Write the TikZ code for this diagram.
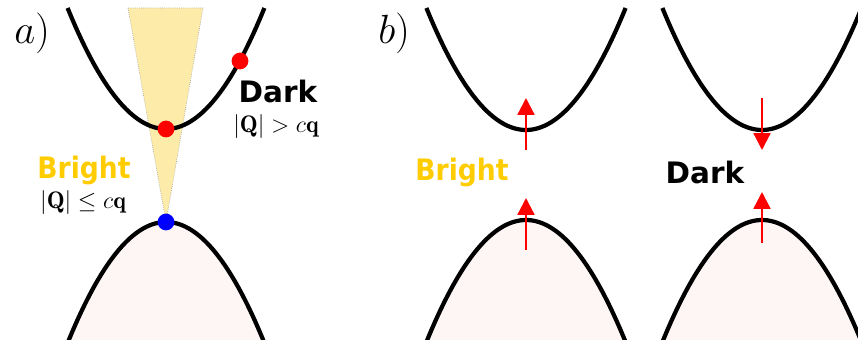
\RequirePackage{fix-cm}
\documentclass[tikz,border=0pt]{standalone}
\usepackage{amsmath}
\usepackage{amssymb}
\usepackage{fontspec}
\usepackage{xcolor}
\usetikzlibrary{arrows.meta}
\newfontfamily\labelfont{DejaVu Sans}
\definecolor{brightgold}{HTML}{FFCC00}
\definecolor{conefill}{HTML}{FDEBA9}
\definecolor{bandfill}{HTML}{FDF6F5}
\tikzset{
  band/.style={line width=3pt, black},
  cone/.style={fill=conefill, draw=gray!70, densely dotted, line width=0.5pt},
  kdot/.style={circle, inner sep=0pt, minimum size=0.42cm},
  spin/.style={-{Triangle[length=4.2mm, width=4.2mm]}, line width=1.6pt, red},
  lbl/.style={font=\labelfont\bfseries\fontsize{21}{24}\selectfont, inner sep=0pt},
  brightlbl/.style={lbl, text=brightgold, xscale=0.9, transform shape},
  cond/.style={font=\fontsize{17}{19}\selectfont, inner sep=0pt},
  panel/.style={font=\fontsize{29}{32}\selectfont, inner sep=0pt}
}

\begin{document}
\begin{tikzpicture}[x=0.025cm, y=-0.025cm]
  \useasboundingbox (0,0) rectangle (858,340);
  \clip (0,0) rectangle (858,340);

  % a) light cone and bands
  \filldraw[cone] (128,8) -- (166,222) -- (203,8) -- cycle;
  \fill[bandfill] plot[domain=62:270, smooth, samples=60] (\x, {222+0.0125*(\x-166)^2}) -- cycle;
  \draw[band] plot[domain=62:270, smooth, samples=60] (\x, {222+0.0125*(\x-166)^2});
  \draw[band] plot[domain=67.6:264.4, smooth, samples=60] (\x, {129-0.0125*(\x-166)^2});
  \node[kdot, fill=red] (mindot) at (166,129) {};
  \node[kdot, fill=red] (highdot) at (240,61) {};
  \node[kdot, fill=blue] (gapdot) at (166,222) {};

  \node[panel] (alabel) at (32,33) {$a)$};
  \node[lbl] (darka) at (278,91) {Dark};
  \node[cond] (darkcond) at (276,127) {$|\mathbf{Q}| > c\mathbf{q}$};
  \node[brightlbl] (brighta) at (84,170) {Bright};
  \node[cond] (brightcond) at (83,203) {$|\mathbf{Q}| \leq c\mathbf{q}$};

  % b) two band pairs
  \foreach \cx in {526,762} {
    \fill[bandfill] plot[domain=\cx-104:\cx+104, smooth, samples=60] (\x, {220+0.0123*(\x-\cx)^2}) -- cycle;
    \draw[band] plot[domain=\cx-104:\cx+104, smooth, samples=60] (\x, {220+0.0123*(\x-\cx)^2});
    \draw[band] plot[domain=\cx-99.6:\cx+99.6, smooth, samples=60] (\x, {130-0.0123*(\x-\cx)^2});
  }
  \node[panel] (blabel) at (394,33) {$b)$};
  \node[brightlbl] (brightb) at (462,172) {Bright};
  \node[lbl] (darkb) at (705,172) {Dark};

  \coordinate (lu0) at (526,150); \coordinate (lu1) at (526,98);
  \coordinate (ll0) at (526,250); \coordinate (ll1) at (526,198);
  \coordinate (ru0) at (762,98);  \coordinate (ru1) at (762,150);
  \coordinate (rl0) at (762,243); \coordinate (rl1) at (762,192);
  \draw[spin] (lu0) -- (lu1);
  \draw[spin] (ll0) -- (ll1);
  \draw[spin] (ru0) -- (ru1);
  \draw[spin] (rl0) -- (rl1);
\end{tikzpicture}
\end{document}
